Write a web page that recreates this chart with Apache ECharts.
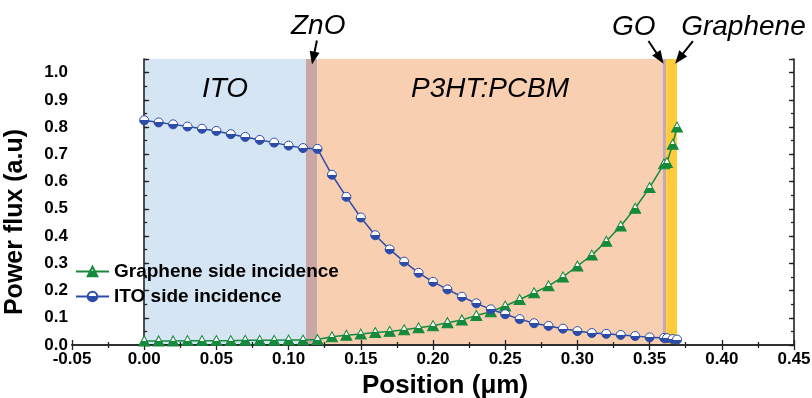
<!DOCTYPE html>
<html>
<head>
<meta charset="utf-8">
<script src="https://cdn.jsdelivr.net/npm/echarts@6/dist/echarts.min.js"></script>
<style>
  html, body { margin: 0; padding: 0; background: #ffffff; }
  #chart { width: 812px; height: 398px; }
</style>
</head>
<body>
<div id="chart"></div>
<script>
// ---- data ----
const positions = [0.00, 0.01, 0.02, 0.03, 0.04, 0.05, 0.06, 0.07, 0.08, 0.09, 0.10, 0.11, 0.12,
  0.13, 0.14, 0.15, 0.16, 0.17, 0.18, 0.19, 0.20, 0.21, 0.22, 0.23, 0.24, 0.25, 0.26, 0.27, 0.28,
  0.29, 0.30, 0.31, 0.32, 0.33, 0.34, 0.35, 0.36, 0.362, 0.366, 0.369];
const itoSide = [0.825, 0.817, 0.810, 0.802, 0.794, 0.786, 0.774, 0.764, 0.753, 0.743, 0.732, 0.723, 0.720,
  0.625, 0.544, 0.468, 0.403, 0.351, 0.306, 0.265, 0.232, 0.204, 0.177, 0.153, 0.131, 0.113, 0.095, 0.080, 0.070,
  0.060, 0.051, 0.044, 0.041, 0.037, 0.033, 0.028, 0.026, 0.025, 0.022, 0.020];
const grapheneSide = [0.015, 0.015, 0.015, 0.016, 0.016, 0.016, 0.016, 0.017, 0.017, 0.017, 0.018, 0.018, 0.020,
  0.030, 0.036, 0.040, 0.046, 0.050, 0.056, 0.063, 0.071, 0.082, 0.092, 0.108, 0.122, 0.143, 0.167, 0.192, 0.217,
  0.250, 0.290, 0.330, 0.381, 0.437, 0.502, 0.578, 0.665, 0.670, 0.737, 0.800];
const seriesNames = ['Graphene side incidence', 'ITO side incidence'];

const layerNames = ['ITO', 'ZnO', 'P3HT:PCBM', 'GO', 'Graphene'];
const layerStart = [0.000, 0.112, 0.120, 0.359, 0.3615];
const layerEnd   = [0.112, 0.120, 0.359, 0.3615, 0.369];
const insideLabelY = 0.94;            // y value of the labels written inside the bands
const insideLabelLayers = ['ITO', 'P3HT:PCBM'];

const calloutNames = ['ZnO', 'GO', 'Graphene'];
const calloutTextX = [0.1205, 0.339, 0.415];
const calloutTextY = [1.170, 1.166, 1.166];
const arrowFromX = [0.1196, 0.3492, 0.380];
const arrowFromY = [1.118, 1.116, 1.116];
const arrowToX   = [0.1162, 0.3597, 0.3677];
const arrowToY   = [1.030, 1.033, 1.033];

const xMin = -0.05, xMax = 0.45, xStep = 0.05;
const yMin = 0, yMax = 1.05, yStep = 0.1, yMinorStep = 0.05;

// ---- styles ----
const layerColors = ['#d5e5f4', '#c9a7a5', '#f9cfb1', '#c9aaa9', '#fecb3a'];
const blue = '#2d4ca9';
const green = '#148a3c';
const FONT = 'Liberation Sans, Arial, Helvetica, sans-serif';

function halfFill(color) {
  return { type: 'linear', x: 0, y: 0, x2: 0, y2: 1,
    colorStops: [ { offset: 0, color: '#ffffff' }, { offset: 0.5, color: '#ffffff' },
                  { offset: 0.5, color: color }, { offset: 1, color: color } ] };
}

const chart = echarts.init(document.getElementById('chart'), null, { renderer: 'canvas' });

const bandData = layerNames.map((n, i) => [layerStart[i], layerEnd[i], i]);
const calloutData = calloutNames.map((n, i) => [calloutTextX[i], calloutTextY[i], arrowFromX[i], arrowFromY[i], arrowToX[i], arrowToY[i], i]);

function renderBand(params, api) {
  const i = params.dataIndex;
  const p0 = api.coord([api.value(0), yMax]);
  const p1 = api.coord([api.value(1), yMin]);
  const children = [{
    type: 'rect',
    shape: { x: p0[0], y: p0[1], width: p1[0] - p0[0], height: p1[1] - p0[1] },
    style: { fill: layerColors[i] }
  }];
  if (insideLabelLayers.indexOf(layerNames[i]) >= 0) {
    const c = api.coord([(api.value(0) + api.value(1)) / 2, insideLabelY]);
    children.push({
      type: 'text', x: c[0], y: c[1],
      style: { text: layerNames[i], font: 'italic 28px ' + FONT, fill: '#000', align: 'center', verticalAlign: 'middle' }
    });
  }
  return { type: 'group', children: children };
}

function renderCallout(params, api) {
  const i = params.dataIndex;
  const t = api.coord([api.value(0), api.value(1)]);
  const f = api.coord([api.value(2), api.value(3)]);
  const e = api.coord([api.value(4), api.value(5)]);
  const dx = e[0] - f[0], dy = e[1] - f[1];
  const len = Math.sqrt(dx * dx + dy * dy);
  const ux = dx / len, uy = dy / len;
  const L = 13, W = 5;
  const bx = e[0] - ux * L, by = e[1] - uy * L;
  const nx = -uy, ny = ux;
  return {
    type: 'group',
    children: [
      { type: 'text', x: t[0], y: t[1],
        style: { text: calloutNames[i], font: 'italic 28px ' + FONT, fill: '#000', align: 'center', verticalAlign: 'middle' } },
      { type: 'line', shape: { x1: f[0], y1: f[1], x2: bx + ux * 2, y2: by + uy * 2 },
        style: { stroke: '#000', lineWidth: 2 } },
      { type: 'polygon', shape: { points: [[e[0], e[1]], [bx + nx * W, by + ny * W], [bx - nx * W, by - ny * W]] },
        style: { fill: '#000' } }
    ]
  };
}

const axisLineStyle = { show: true, lineStyle: { color: '#222', width: 1.6 } };

const option = {
  animation: false,
  backgroundColor: '#ffffff',
  textStyle: { fontFamily: FONT },
  grid: { left: 72, right: 18, top: 59, bottom: 53, containLabel: false, outerBoundsMode: 'none' },
  legend: {
    data: seriesNames,
    orient: 'vertical',
    left: 75, top: 262,
    itemWidth: 33, itemHeight: 12, itemGap: 6,
    textStyle: { fontSize: 19, fontWeight: 'bold', color: '#000', fontFamily: FONT },
    padding: 0
  },
  xAxis: [
    { type: 'value', position: 'bottom', min: xMin, max: xMax, interval: xStep, z: 2,
      axisLine: axisLineStyle,
      axisTick: { show: true, inside: true, length: 5, lineStyle: { color: '#222', width: 1.3 } },
      minorTick: { show: true, splitNumber: 2, length: 3, lineStyle: { color: '#222', width: 1.3 } },
      splitLine: { show: false },
      axisLabel: { show: true, margin: 6, fontSize: 17, fontWeight: 'bold', color: '#000', fontFamily: FONT,
        formatter: v => v.toFixed(2) },
      name: 'Position (\u03bcm)', nameLocation: 'middle', nameGap: 26,
      nameTextStyle: { fontSize: 26, fontWeight: 'bold', color: '#000', fontFamily: FONT, padding: [0, 0, 0, 24] }
    },
    { type: 'value', position: 'top', min: xMin, max: xMax, interval: xStep, z: 2,
      axisLine: axisLineStyle,
      axisTick: { show: true, inside: true, length: 5, lineStyle: { color: '#222', width: 1.3 } },
      minorTick: { show: true, splitNumber: 2, length: 3, lineStyle: { color: '#222', width: 1.3 } },
      splitLine: { show: false }, axisLabel: { show: false }
    }
  ],
  yAxis: [
    { type: 'value', position: 'left', min: yMin, max: yMax, interval: yStep, z: 2,
      axisLine: axisLineStyle,
      axisTick: { show: true, inside: true, length: 5, lineStyle: { color: '#222', width: 1.3 } },
      splitLine: { show: false },
      axisLabel: { show: true, margin: 4, fontSize: 17, fontWeight: 'bold', color: '#000', fontFamily: FONT,
        formatter: v => (v > 1.001 ? '' : v.toFixed(1)) },
      name: 'Power flux (a.u)', nameLocation: 'middle', nameGap: 44, nameRotate: 90,
      nameTextStyle: { fontSize: 25, fontWeight: 'bold', color: '#000', fontFamily: FONT, padding: [0, 40, 0, 0] }
    },
    { type: 'value', position: 'left', min: yMin, max: yMax, interval: yMinorStep, z: 2,
      axisLine: { show: false },
      axisTick: { show: true, inside: true, length: 3, lineStyle: { color: '#222', width: 1.3 } },
      splitLine: { show: false }, axisLabel: { show: false }
    },
    { type: 'value', position: 'right', min: yMin, max: yMax, interval: yStep, z: 2,
      axisLine: axisLineStyle,
      axisTick: { show: true, inside: true, length: 5, lineStyle: { color: '#222', width: 1.3 } },
      splitLine: { show: false }, axisLabel: { show: false }
    },
    { type: 'value', position: 'right', min: yMin, max: yMax, interval: yMinorStep, z: 2,
      axisLine: { show: false },
      axisTick: { show: true, inside: true, length: 3, lineStyle: { color: '#222', width: 1.3 } },
      splitLine: { show: false }, axisLabel: { show: false }
    }
  ],
  series: [
    { type: 'custom', name: 'layers', z: 1, silent: true, clip: false,
      renderItem: renderBand, encode: { x: [0, 1] }, data: bandData },
    { type: 'line', name: seriesNames[0], z: 3,
      data: positions.map((x, i) => [x, grapheneSide[i]]),
      symbol: 'triangle', symbolSize: [11, 10],
      lineStyle: { color: green, width: 1.5 },
      itemStyle: { color: halfFill(green), borderColor: green, borderWidth: 1 }
    },
    { type: 'line', name: seriesNames[1], z: 3,
      data: positions.map((x, i) => [x, itoSide[i]]),
      symbol: 'circle', symbolSize: 9,
      lineStyle: { color: blue, width: 1.5 },
      itemStyle: { color: halfFill(blue), borderColor: blue, borderWidth: 1 }
    },
    { type: 'custom', name: 'callouts', z: 4, silent: true, clip: false,
      renderItem: renderCallout, encode: { x: [0, 2, 4], y: [1, 3, 5] }, data: calloutData }
  ]
};
chart.setOption(option);
</script>
</body>
</html>
